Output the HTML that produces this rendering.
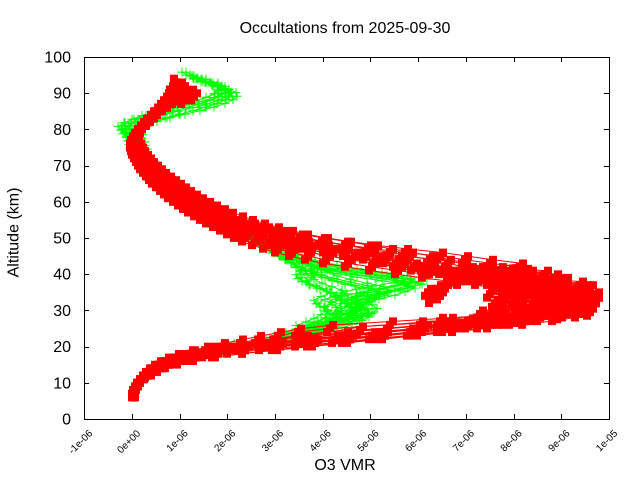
<!DOCTYPE html>
<html><head><meta charset="utf-8"><style>
html,body{margin:0;padding:0;background:#fff;}
svg{display:block;}
text{font-family:"Liberation Sans",Arial,sans-serif;fill:#000;}
.g{fill:none;stroke:#0f0;stroke-width:1;marker:url(#c);}
.r{fill:none;stroke:#f00;stroke-width:1;marker:url(#s);}
</style></head><body>
<svg xmlns="http://www.w3.org/2000/svg" xmlns:xlink="http://www.w3.org/1999/xlink" width="640" height="480" viewBox="0 0 640 480">
<defs>
<marker id="s" markerUnits="userSpaceOnUse" markerWidth="8" markerHeight="8" refX="4" refY="4" viewBox="0 0 8 8" overflow="visible"><rect width="8" height="8" fill="#f00"/></marker>
<marker id="c" markerUnits="userSpaceOnUse" markerWidth="9" markerHeight="9" refX="4.5" refY="4.5" viewBox="0 0 9 9" overflow="visible"><path d="M0 4.5H9M4.5 0V9" stroke="#0f0" stroke-width="1" fill="none"/></marker>
<clipPath id="cg1" clipPathUnits="userSpaceOnUse"><rect x="0" y="60" width="640" height="285"/></clipPath>
<clipPath id="cg2" clipPathUnits="userSpaceOnUse"><rect x="0" y="135" width="640" height="210"/></clipPath>
<clipPath id="cr1" clipPathUnits="userSpaceOnUse"><rect x="0" y="82" width="640" height="296"/></clipPath>
</defs>
<rect width="640" height="480" fill="#fff"/>

<!-- green series -->
<g id="grn">
<polyline class="g" points="133,397.3 134,390 137,382.8 144,375.6 153,368.3 168,361.1 180,357.5 195,353.8 215,350.2 238,346.6 260,343 278,339.4 290,335.7 300,332.1 312,328.5 325,324.9 340,321.3 350,317.6 356,314 355,310.4 350,306.8 345,303.2 340,299.5 345,295.9 360,292.3 380,288.7 400,285.1 415,281.4 395,277.8 370,274.2 345,270.6 325,267 308,263.3 296,259.7 286,256.1 278,252.5 271,248.9 265,245.2 258,241.6 252,238 243,234.4 234,230.8 224,227.1 216,223.5 208,219.9 201,216.3 194,212.7 187,209 181,205.4 175,201.8 170,198.2 165,194.6 161,190.9 157,187.3 153,183.7 150,180.1 147,176.5 145,172.8 143,169.2 141,165.6 139,162 137,158.4 135,154.7 134,151.1 133,147.5 132,143.9 130,140.3 127,136.6 125,133 122,129.4 128,125.8 138,122.2 150,118.5 163,114.9 178,111.3 193,107.7 207,104.1 218,100.4 226,96.8 230,93.2 229,89.6 222,86 210,82.3 198,78.7 190,75.1"/>
<polyline class="g" points="134,397.3 135,390 138,382.8 145,375.6 155,368.3 170,361.1 182,357.5 200,353.8 222,350.2 245,346.6 268,343 285,339.4 296,335.7 304,332.1 310,328.5 318,324.9 330,321.3 338,317.6 342,314 340,310.4 345,306.8 352,303.2 360,299.5 368,295.9 378,292.3 372,288.7 355,285.1 338,281.4 325,277.8 315,274.2 306,270.6 298,267 291,263.3 285,259.7 279,256.1 273,252.5 267,248.9 262,245.2 256,241.6 251,238 246,234.4 240,230.8 232,227.1 223,223.5 215,219.9 208,216.3 201,212.7 194,209 188,205.4 182,201.8 177,198.2 171,194.6 167,190.9 162,187.3 158,183.7 154,180.1 150,176.5 147,172.8 144,169.2 142,165.6 138,158.4 135,151.1 133,143.9 131,136.6 129,133 130,129.4 135,125.8 142,122.2 150,118.5 160,114.9 173,111.3 186,107.7 198,104.1 210,100.4 219,96.8 225,93.2 224,89.6 217,86 206,82.3 196,78.7"/>
<polyline class="g" points="135,397.3 136,390 139,382.8 146,375.6 157,368.3 174,361.1 205,353.8 225,350.2 248,346.6 270,343 287,339.4 298,335.7 306,332.1 322,328.5 335,324.9 345,321.3 355,317.6 362,314 365,310.4 360,306.8 355,303.2 362,299.5 372,295.9 388,292.3 398,288.7 408,285.1 398,281.4 375,277.8 350,274.2 330,270.6 315,267 303,263.3 293,259.7 285,256.1 277,252.5 270,248.9 263,245.2 257,241.6 250,238 236,230.8 220,223.5 205,216.3 191,209 178,201.8 168,194.6 159,187.3 152,180.1 146,172.8 141,165.6 137,158.4 134,151.1 132,143.9 129,136.6 126,129.4 129,125.8 136,122.2 146,118.5 158,114.9 172,111.3 186,107.7 199,104.1 210,100.4 218,96.8 222,93.2 221,89.6 215,86 205,82.3 194,78.7 186,75.1"/>
<polyline class="g" points="300,328.5 310,324.9 318,321.3 325,317.6 330,314 328,310.4 320,306.8 318,303.2 325,299.5 335,295.9 330,292.3 320,288.7 310,285.1 302,281.4 300,277.8 305,274.2 300,270.6"/>
</g>
<use href="#grn" xlink:href="#grn" transform="translate(7,3)" clip-path="url(#cg1)"/>
<use href="#grn" xlink:href="#grn" transform="translate(-4,-3)" clip-path="url(#cg1)"/>
<use href="#grn" xlink:href="#grn" transform="translate(12,-2)" clip-path="url(#cg2)"/>

<!-- red series -->
<g id="red">
<polyline class="r" points="133,397.3 132,393.7 133,390 135,386.4 137,382.8 140,379.2 143,375.6 147,371.9 152,368.3 158,364.7 166,361.1 176,357.5 192,353.8 212,350.2 240,346.6 270,343 305,339.4 345,335.7 385,332.1 425,328.5 465,324.9 500,321.3 535,317.6 565,314 585,310.4 592,306.8 590,303.2 580,299.5 565,295.9 548,292.3 530,288.7 510,285.1 490,281.4 470,277.8 450,274.2 432,270.6 414,267 396,263.3 376,259.7 355,256.1 333,252.5 312,248.9 292,245.2 275,241.6 260,238 248,234.4 238,230.8 229,227.1 221,223.5 213,219.9 206,216.3 199,212.7 193,209 187,205.4 181,201.8 176,198.2 171,194.6 167,190.9 163,187.3 159,183.7 155,180.1 152,176.5 149,172.8 146,169.2 143,165.6 141,162 139,158.4 137,154.7 135,151.1 134,147.5 133,143.9 133,140.3 134,136.6 136,133 138,129.4 141,125.8 144,122.2 148,118.5 151,114.9 155,111.3 158,107.7 161,104.1 164,100.4 167,96.8 170,93.2 172,89.6 173,86 174,82.3 174,78.7"/>
<polyline class="r" points="135,397.3 134,393.7 134,390 136,386.4 138,382.8 142,379.2 146,375.6 150,371.9 156,368.3 163,364.7 172,361.1 185,357.5 205,353.8 230,350.2 262,346.6 298,343 335,339.4 372,335.7 410,332.1 445,328.5 480,324.9 512,321.3 540,317.6 560,314 572,310.4 578,306.8 580,303.2 578,299.5 572,295.9 562,292.3 550,288.7 538,285.1 524,281.4 510,277.8 495,274.2 480,270.6 464,267 448,263.3 430,259.7 410,256.1 390,252.5 368,248.9 345,245.2 322,241.6 300,238 282,234.4 266,230.8 252,227.1 240,223.5 230,219.9 222,216.3 215,212.7 208,209 201,205.4 195,201.8 189,198.2 184,194.6 179,190.9 174,187.3 169,183.7 164,180.1 160,176.5 156,172.8 152,169.2 149,165.6 146,162 143,158.4 141,154.7 139,151.1 137,147.5 136,143.9 136,140.3 137,136.6 139,133 142,129.4 145,125.8 149,122.2 153,118.5 157,114.9 160,111.3 163,107.7 170,104.1 184,100.4 194,96.8 190,93.2 182,89.6 178,86 176,82.3"/>
<polyline class="r" points="134,397.3 135,393.7 135,390 137,386.4 140,382.8 144,379.2 148,375.6 154,371.9 160,368.3 168,364.7 180,361.1 196,357.5 218,353.8 245,350.2 275,346.6 310,343 345,339.4 380,335.7 412,332.1 440,328.5 468,324.9 494,321.3 515,317.6 532,314 545,310.4 552,306.8 555,303.2 553,299.5 548,295.9 538,292.3 525,288.7 510,285.1 494,281.4 477,277.8 460,274.2 442,270.6 424,267 405,263.3 386,259.7 366,256.1 346,252.5 326,248.9 306,245.2 288,241.6 272,238 260,234.4 249,230.8 239,227.1 230,223.5 222,219.9 215,216.3 208,212.7 201,209 195,205.4 189,201.8 183,198.2 178,194.6 173,190.9 168,187.3 163,183.7 159,180.1 155,176.5 151,172.8 148,169.2 145,165.6 142,162 140,158.4 138,154.7 136,151.1 135,147.5 134,143.9 134,140.3 135,136.6 137,133 139,129.4 142,125.8 146,122.2 150,118.5 154,114.9 158,111.3 161,107.7 165,104.1 170,100.4 177,96.8 184,93.2 179,89.6 176,86"/>
<polyline class="r" points="134,397.3 135,393.7 136,390 138,386.4 140,382.8 143,379.2 147,375.6 151,371.9 156,368.3 162,364.7 170,361.1 180,357.5 190,353.8 205,350.2 222,346.6 240,343 258,339.4 278,335.7 298,332.1 330,328.5 390,324.9 450,321.3 500,317.6 480,314 520,310.4 500,306.8 545,303.2 520,299.5 570,295.9 535,292.3 585,288.7 555,285.1 560,281.4 520,277.8 530,274.2 490,270.6 520,267 490,263.3 465,259.7 440,256.1 405,252.5 375,248.9 348,245.2 325,241.6 305,238 290,234.4 276,230.8 262,227.1 250,223.5 240,219.9 230,216.3 222,212.7 214,209 207,205.4 200,201.8 194,198.2 188,194.6 183,190.9 178,187.3 173,183.7 168,180.1 163,176.5 159,172.8 155,169.2 151,165.6 148,162 145,158.4 142,154.7 140,151.1 138,147.5 136,143.9 135,140.3 136,136.6 138,133 140,129.4 143,125.8 147,122.2 151,118.5 155,114.9 159,111.3 162,107.7 166,104.1 170,100.4 173,96.8 176,93.2 178,89.6 179,86"/>
<polyline class="r" points="132,397.3 133,393.7 134,390 136,386.4 139,382.8 143,379.2 148,375.6 154,371.9 160,368.3 166,364.7 172,361.1 190,357.5 215,353.8 245,350.2 280,346.6 315,343 350,339.4 385,335.7 420,332.1 455,328.5 490,324.9 525,321.3 555,317.6 578,314 590,310.4 593,306.8 588,303.2 578,299.5 562,295.9 545,292.3 525,288.7 502,285.1 478,281.4 452,277.8 425,274.2 398,270.6 372,267 348,263.3 326,259.7 308,256.1 292,252.5 278,248.9 266,245.2 255,241.6 245,238 237,234.4 230,230.8 223,227.1 216,223.5 209,219.9 203,216.3 197,212.7 191,209 186,205.4 181,201.8 176,198.2 172,194.6 168,190.9 164,187.3 160,183.7 157,180.1 153,176.5 150,172.8 147,169.2 144,165.6 141,162 139,158.4 137,154.7 135,151.1 134,147.5 133,143.9 133,140.3 134,136.6 136,133 139,129.4 142,125.8 146,122.2 150,118.5 155,114.9 160,111.3 165,107.7 170,104.1 175,100.4 178,96.8 176,93.2"/>
<polyline class="r" points="420,324.9 470,323.1 440,321.3 520,319.5 480,317.6 560,315.8 530,314 590,312.2 550,310.4 570,308.6 540,306.8 585,305 560,303.2 596,301.4 570,299.5 590,297.7 596,295.9 560,294.1 580,292.3 555,290.5 590,288.7 565,286.9 580,285.1 545,283.3 565,281.4 540,279.6 555,277.8 530,276 545,274.2 510,272.4 470,270.6"/>
<polyline class="r" points="505,321.3 525,317.6 490,315.8 515,314 540,312.2 500,310.4 530,308.6 560,306.8 520,305 495,303.2 515,301.4 545,299.5 505,297.7 525,295.9 490,294.1 515,292.3 540,290.5 505,288.7 520,286.9 495,285.1 530,283.3 510,281.4 540,279.6 500,277.8 480,276 505,274.2 525,272.4 500,270.6"/>
<polyline class="r" points="432,299.5 440,295.9 428,292.3 438,288.7 448,285.1 460,281.4"/>
<polyline class="r" points="220,350 300,340 360,330 470,322 580,309 596,300"/>
</g>
<use href="#red" xlink:href="#red" transform="translate(3,-3.5)" clip-path="url(#cr1)"/>
<use href="#red" xlink:href="#red" transform="translate(-3,3.5)" clip-path="url(#cr1)"/>

<!-- frame and ticks -->
<g stroke="#000" stroke-width="1" fill="none" shape-rendering="crispEdges">
<rect x="84.5" y="57.5" width="525" height="362"/>
<path d="M132.5 419V414M180.5 419V414M227.5 419V414M275.5 419V414M323.5 419V414M370.5 419V414M418.5 419V414M466.5 419V414M514.5 419V414M561.5 419V414
M132.5 57V62M180.5 57V62M227.5 57V62M275.5 57V62M323.5 57V62M370.5 57V62M418.5 57V62M466.5 57V62M514.5 57V62M561.5 57V62
M84 383.5H89M84 347.5H89M84 310.5H89M84 274.5H89M84 238.5H89M84 202.5H89M84 166.5H89M84 129.5H89M84 93.5H89
M609 383.5H604M609 347.5H604M609 310.5H604M609 274.5H604M609 238.5H604M609 202.5H604M609 166.5H604M609 129.5H604M609 93.5H604"/>
</g>

<!-- y tick labels -->
<g font-size="16" text-anchor="end">
<text x="71" y="424.5">0</text>
<text x="71" y="388.3">10</text>
<text x="71" y="352.1">20</text>
<text x="71" y="315.9">30</text>
<text x="71" y="279.7">40</text>
<text x="71" y="243.5">50</text>
<text x="71" y="207.3">60</text>
<text x="71" y="171.1">70</text>
<text x="71" y="134.9">80</text>
<text x="71" y="98.7">90</text>
<text x="71" y="62.5">100</text>
</g>

<!-- x tick labels -->
<g font-size="10" text-anchor="end">
<text transform="translate(93,434) rotate(-45)">-1e-06</text>
<text transform="translate(141,434) rotate(-45)">0e+00</text>
<text transform="translate(188.5,434) rotate(-45)">1e-06</text>
<text transform="translate(236.2,434) rotate(-45)">2e-06</text>
<text transform="translate(283.9,434) rotate(-45)">3e-06</text>
<text transform="translate(331.6,434) rotate(-45)">4e-06</text>
<text transform="translate(379.4,434) rotate(-45)">5e-06</text>
<text transform="translate(427.1,434) rotate(-45)">6e-06</text>
<text transform="translate(474.8,434) rotate(-45)">7e-06</text>
<text transform="translate(522.5,434) rotate(-45)">8e-06</text>
<text transform="translate(570.3,434) rotate(-45)">9e-06</text>
<text transform="translate(618,434) rotate(-45)">1e-05</text>
</g>

<text x="345" y="33" font-size="16" text-anchor="middle">Occultations from 2025-09-30</text>
<text x="345" y="470" font-size="16" text-anchor="middle">O3 VMR</text>
<text transform="translate(18.5,232.5) rotate(-90)" font-size="16" text-anchor="middle">Altitude (km)</text>
</svg>
</body></html>
